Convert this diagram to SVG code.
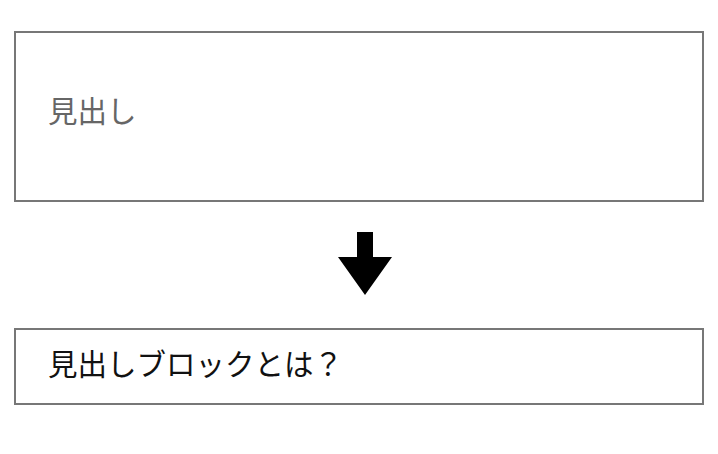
<svg xmlns="http://www.w3.org/2000/svg" width="718" height="454" viewBox="0 0 718 454">
<style>
.box{fill:#fff;stroke:#777;stroke-width:2}
.t{font-family:"Noto Sans CJK JP","Noto Sans",sans-serif;font-size:29.5px}
</style>
<rect width="718" height="454" fill="#fff"/>
<g id="node-before">
<rect class="box" x="15" y="32" width="688" height="169"/>
<text class="t" x="48" y="122" fill="#666">見出し</text>
</g>
<g id="connectors">
<polygon points="357,232 373,232 373,257 392,257 365,295 338,257 357,257" fill="#000"/>
</g>
<g id="node-after">
<rect class="box" x="15" y="329" width="688" height="75"/>
<text class="t" x="48" y="375" fill="#111">見出しブロックとは？</text>
</g>
</svg>
